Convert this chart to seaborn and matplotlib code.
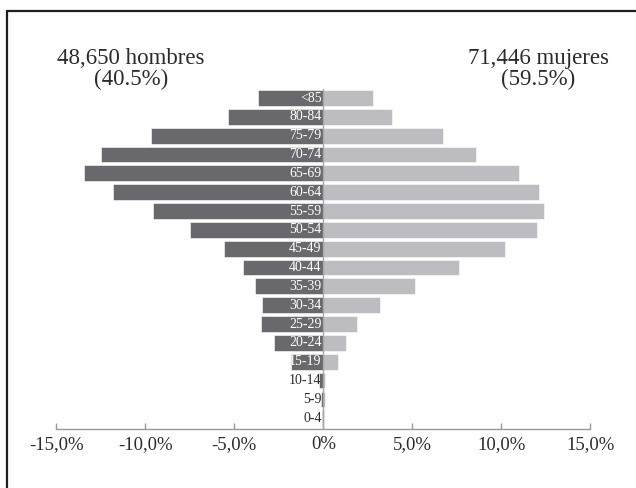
import matplotlib
matplotlib.use("Agg")
import matplotlib.pyplot as plt
import pandas as pd
import seaborn as sns
from matplotlib.lines import Line2D

edades = ["<85", "80-84", "75-79", "70-74", "65-69", "60-64", "55-59", "50-54", "45-49",
          "40-44", "35-39", "30-34", "25-29", "20-24", "15-19", "10-14", "5-9", "0-4"]
hombres = [3.7, 5.35, 9.7, 12.5, 13.45, 11.8, 9.6, 7.5, 5.6,
           4.5, 3.85, 3.45, 3.5, 2.75, 1.8, 0.22, 0.11, 0.06]
mujeres = [2.8, 3.85, 6.75, 8.55, 11.0, 12.1, 12.4, 12.0, 10.2,
           7.65, 5.15, 3.2, 1.9, 1.3, 0.8, 0.1, 0.1, 0.04]
xticks = [-15, -10, -5, 0, 5, 10, 15]
xticklabels = ["-15,0%", "-10,0%", "-5,0%", "0%", "5,0%", "10,0%", "15,0%"]
titulo_h = "48,650 hombres\n(40.5%)"
titulo_m = "71,446 mujeres\n(59.5%)"

OSCURO = "#68686d"
CLARO = "#bdbdc1"
TEXTO = "#2b2b2b"

sns.set_theme(style="white")
plt.rcParams["font.family"] = ["Liberation Serif", "DejaVu Serif"]

df = pd.DataFrame({"edad": edades, "hombres": [-v for v in hombres], "mujeres": mujeres})

fig = plt.figure(figsize=(6.36, 4.88), dpi=100)
ax = fig.add_axes([56.4 / 636, 1 - 429 / 488, (590.3 - 56.4) / 636, (429 - 88.6) / 488])

sns.barplot(data=df, y="edad", x="hombres", color=OSCURO, orient="h", width=0.84,
            saturation=1, edgecolor="white", linewidth=0.4, ax=ax)
sns.barplot(data=df, y="edad", x="mujeres", color=CLARO, orient="h", width=0.84,
            saturation=1, edgecolor="white", linewidth=0.4, ax=ax)

ax.set_xlim(-15, 15)
ax.set_ylim(17.57, -0.5)
ax.set_xticks(xticks)
ax.set_xticklabels(xticklabels, fontsize=13.5, color=TEXTO)
ax.set_yticks([])
ax.set_xlabel("")
ax.set_ylabel("")
for side in ["top", "right", "left"]:
    ax.spines[side].set_visible(False)
ax.spines["bottom"].set_color("#9a9a9a")
ax.spines["bottom"].set_linewidth(1.0)
ax.tick_params(axis="x", direction="in", length=4, width=1.0, color="#9a9a9a", pad=5, bottom=True)
ax.axvline(0, color="#a8a8a8", linewidth=1.0, ymin=-0.01, zorder=3)

for i, (edad, h) in enumerate(zip(edades, hombres)):
    color = "white" if h > 1.0 else TEXTO
    ax.text(-0.1, i, edad, ha="right", va="center", fontsize=10, color=color, zorder=4)

fig.text(131 / 636, 1 - 69 / 488, titulo_h, ha="center", va="center", fontsize=16.5,
         color=TEXTO, linespacing=1.0)
fig.text(538 / 636, 1 - 69 / 488, titulo_m, ha="center", va="center", fontsize=16.5,
         color=TEXTO, linespacing=1.0)

# marco de la figura
fig.add_artist(Line2D([7 / 636, 7 / 636], [1 - 11 / 488, 0], transform=fig.transFigure,
                      color="#1e1e1e", linewidth=1.6))
fig.add_artist(Line2D([7 / 636, 1], [1 - 11 / 488, 1 - 11 / 488], transform=fig.transFigure,
                      color="#1e1e1e", linewidth=1.6))

fig.savefig("out.png", dpi=100)
